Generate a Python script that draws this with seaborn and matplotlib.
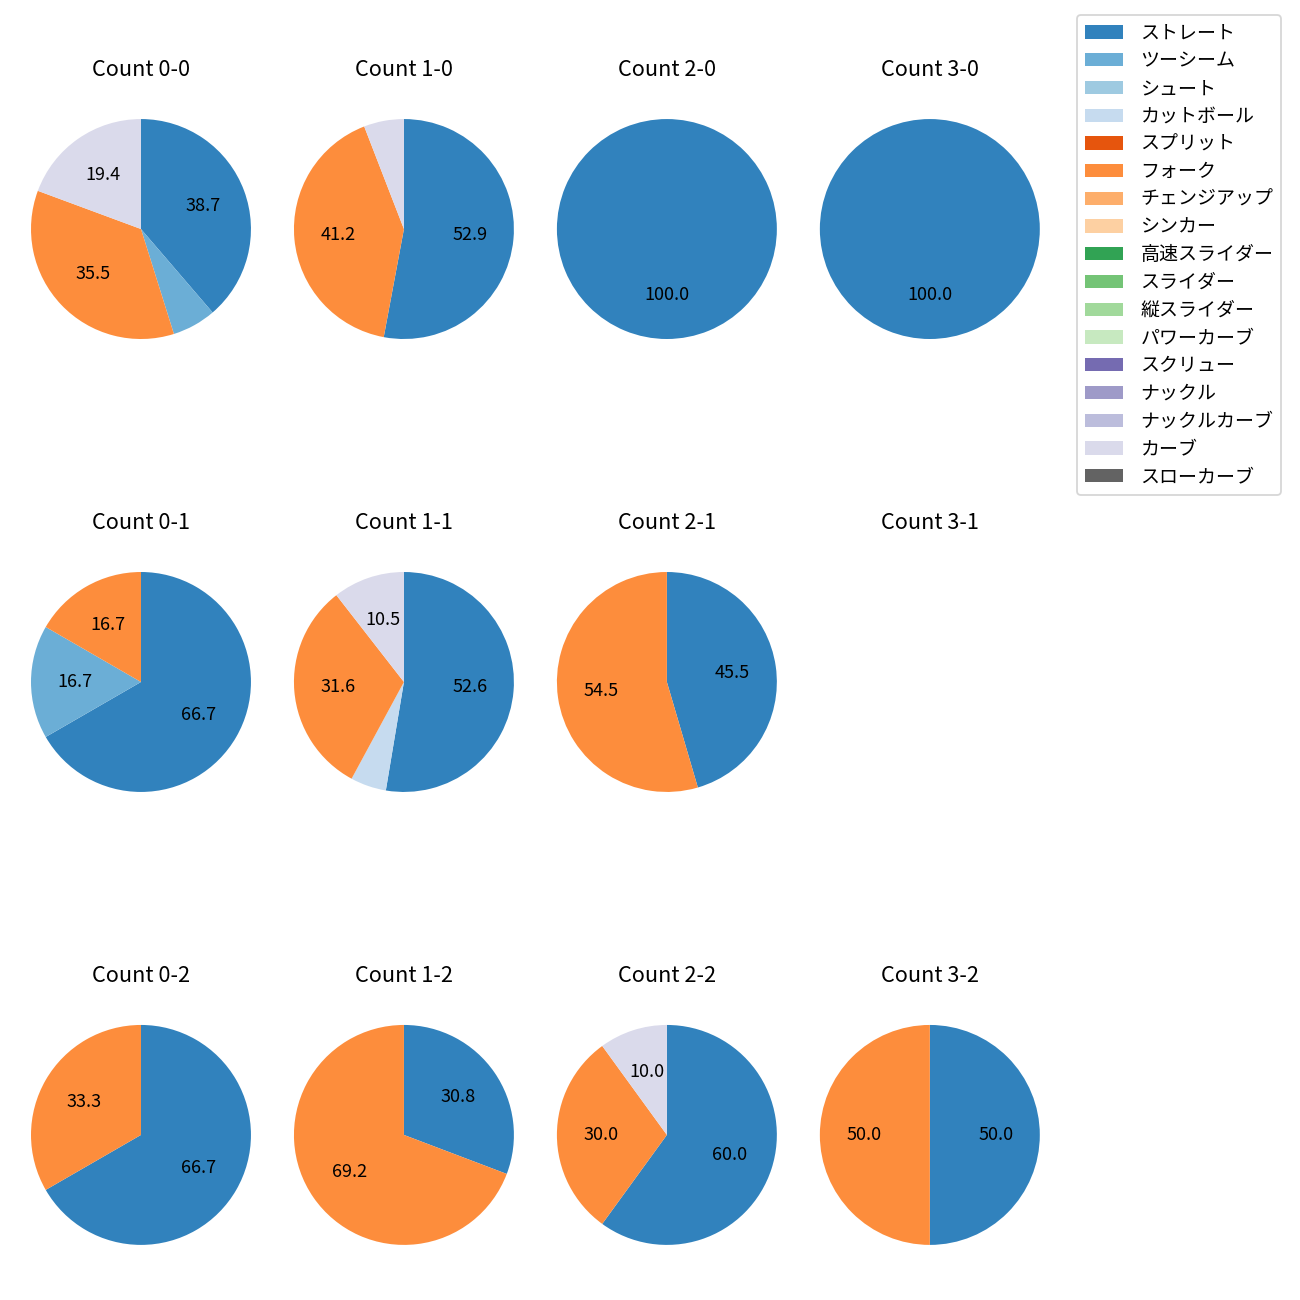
import matplotlib
matplotlib.use("Agg")
import matplotlib.pyplot as plt
from matplotlib.patches import Patch
import seaborn as sns

plt.rcParams['font.family'] = ['Noto Sans CJK JP', 'DejaVu Sans']

pitch_types = ["ストレート", "ツーシーム", "シュート", "カットボール", "スプリット", "フォーク",
               "チェンジアップ", "シンカー", "高速スライダー", "スライダー", "縦スライダー",
               "パワーカーブ", "スクリュー", "ナックル", "ナックルカーブ", "カーブ", "スローカーブ"]

count_labels = ["0-0", "1-0", "2-0", "3-0",
                "0-1", "1-1", "2-1", "3-1",
                "0-2", "1-2", "2-2", "3-2"]

# pitch counts per ball-strike count (order as count_labels)
straight  = [12, 9, 3, 2, 4, 10, 5, 0, 2, 4, 6, 1]
twoseam   = [2, 0, 0, 0, 1, 0, 0, 0, 0, 0, 0, 0]
cutball   = [0, 0, 0, 0, 0, 1, 0, 0, 0, 0, 0, 0]
fork      = [11, 7, 0, 0, 1, 6, 6, 0, 1, 9, 3, 1]
curve     = [6, 1, 0, 0, 0, 2, 0, 0, 0, 0, 1, 0]
zeros     = [0] * 12

series = {
    "ストレート": straight, "ツーシーム": twoseam, "シュート": zeros, "カットボール": cutball,
    "スプリット": zeros, "フォーク": fork, "チェンジアップ": zeros, "シンカー": zeros,
    "高速スライダー": zeros, "スライダー": zeros, "縦スライダー": zeros, "パワーカーブ": zeros,
    "スクリュー": zeros, "ナックル": zeros, "ナックルカーブ": zeros, "カーブ": curve,
    "スローカーブ": zeros,
}

palette = sns.color_palette("tab20c", 20)[:17]
color_map = dict(zip(pitch_types, palette))

fig, axes = plt.subplots(3, 4, figsize=(10, 10), dpi=130)
fig.subplots_adjust(left=0.0027, right=0.821, top=0.9296, bottom=0.0212,
                    wspace=-0.0436, hspace=0.647)

for i, (ax, lab) in enumerate(zip(axes.flat, count_labels)):
    vals = [series[p][i] for p in pitch_types]
    ax.set_title(f"Count {lab}", fontsize=12, pad=8.5)
    if sum(vals) == 0:
        ax.axis("off")
        continue
    names = [p for p, v in zip(pitch_types, vals) if v > 0]
    v = [x for x in vals if x > 0]
    ax.pie(v, colors=[color_map[n] for n in names], startangle=90, counterclock=False,
           autopct=lambda p: f"{p:.1f}" if p >= 8 else "", textprops={"fontsize": 10})

handles = [Patch(facecolor=color_map[p], label=p) for p in pitch_types]
fig.legend(handles=handles, loc="upper left", bbox_to_anchor=(1077 / 1300, 1 - 15 / 1300),
           borderaxespad=0, fontsize=10.5, handlelength=2.05, labelspacing=0.355,
           handletextpad=0.9)

fig.savefig("out.png", dpi=130)
